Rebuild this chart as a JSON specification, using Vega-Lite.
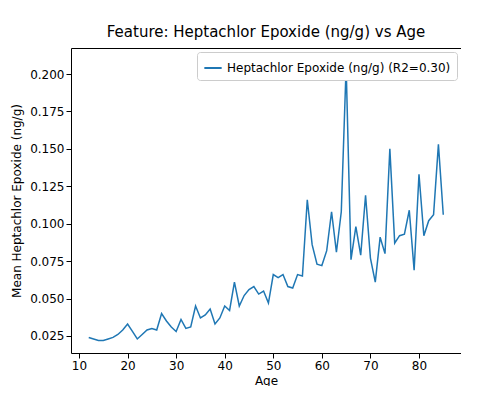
{
  "$schema": "https://vega.github.io/schema/vega-lite/v6.json",
  "width": 390,
  "height": 305,
  "padding": {"left": 10, "top": 25, "right": 0, "bottom": 0},
  "title": {"text": "Feature: Heptachlor Epoxide (ng/g) vs Age", "font": "DejaVu Sans", "fontSize": 15, "fontWeight": "normal", "offset": 8},
  "config": {"view": {"stroke": "black"}, "axis": {"labelFont": "DejaVu Sans", "titleFont": "DejaVu Sans", "labelFontSize": 12, "titleFontSize": 12, "titleFontWeight": "normal", "grid": false, "domain": false, "tickColor": "black", "labelColor": "black"}},
  "data": {"values": [
    {"age":12,"v":0.024},{"age":13,"v":0.023},{"age":14,"v":0.022},{"age":15,"v":0.022},{"age":16,"v":0.023},
    {"age":17,"v":0.024},{"age":18,"v":0.026},{"age":19,"v":0.029},{"age":20,"v":0.033},{"age":21,"v":0.028},
    {"age":22,"v":0.023},{"age":23,"v":0.026},{"age":24,"v":0.029},{"age":25,"v":0.030},{"age":26,"v":0.029},
    {"age":27,"v":0.040},{"age":28,"v":0.035},{"age":29,"v":0.031},{"age":30,"v":0.028},{"age":31,"v":0.036},
    {"age":32,"v":0.030},{"age":33,"v":0.031},{"age":34,"v":0.045},{"age":35,"v":0.037},{"age":36,"v":0.039},
    {"age":37,"v":0.043},{"age":38,"v":0.033},{"age":39,"v":0.037},{"age":40,"v":0.045},{"age":41,"v":0.042},
    {"age":42,"v":0.061},{"age":43,"v":0.045},{"age":44,"v":0.052},{"age":45,"v":0.056},{"age":46,"v":0.058},
    {"age":47,"v":0.053},{"age":48,"v":0.055},{"age":49,"v":0.047},{"age":50,"v":0.066},{"age":51,"v":0.064},
    {"age":52,"v":0.066},{"age":53,"v":0.058},{"age":54,"v":0.057},{"age":55,"v":0.066},{"age":56,"v":0.065},
    {"age":57,"v":0.116},{"age":58,"v":0.086},{"age":59,"v":0.073},{"age":60,"v":0.072},{"age":61,"v":0.082},
    {"age":62,"v":0.108},{"age":63,"v":0.081},{"age":64,"v":0.108},{"age":65,"v":0.205},{"age":66,"v":0.076},
    {"age":67,"v":0.098},{"age":68,"v":0.079},{"age":69,"v":0.119},{"age":70,"v":0.077},{"age":71,"v":0.061},
    {"age":72,"v":0.091},{"age":73,"v":0.080},{"age":74,"v":0.150},{"age":75,"v":0.087},{"age":76,"v":0.092},
    {"age":77,"v":0.093},{"age":78,"v":0.109},{"age":79,"v":0.069},{"age":80,"v":0.133},{"age":81,"v":0.092},
    {"age":82,"v":0.102},{"age":83,"v":0.106},{"age":84,"v":0.153},{"age":85,"v":0.106}
  ]},
  "transform": [{"calculate": "'Heptachlor Epoxide (ng/g) (R2=0.30)'", "as": "series"}],
  "mark": {"type": "line", "strokeWidth": 1.5, "clip": true},
  "encoding": {
    "x": {"field": "age", "type": "quantitative", "title": "Age", "scale": {"domain": [8.35, 88.65], "nice": false, "zero": false}, "axis": {"values": [10,20,30,40,50,60,70,80], "titlePadding": 4}},
    "y": {"field": "v", "type": "quantitative", "title": "Mean Heptachlor Epoxide (ng/g)", "scale": {"domain": [0.0136, 0.2174], "nice": false, "zero": false}, "axis": {"values": [0.025,0.05,0.075,0.1,0.125,0.15,0.175,0.2], "format": ".3f", "titlePadding": 6}},
    "color": {"field": "series", "type": "nominal", "scale": {"range": ["#1f77b4"]}, "title": null,
      "legend": {"orient": "top-right", "symbolType": "stroke", "symbolStrokeWidth": 2, "symbolSize": 300, "labelFont": "DejaVu Sans", "labelFontSize": 12, "labelLimit": 400, "fillColor": "white", "strokeColor": "#cccccc", "padding": 6, "cornerRadius": 3, "offset": 4}}
  }
}
